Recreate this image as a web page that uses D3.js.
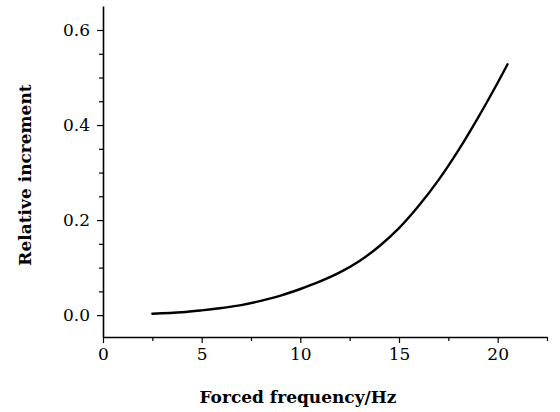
<!DOCTYPE html>
<html>
<head>
<meta charset="utf-8">
<script src="https://cdn.jsdelivr.net/npm/d3@7/dist/d3.min.js"></script>
<style>
  html, body { margin: 0; padding: 0; background: #fff; }
  svg { display: block; }
  text { font-family: "DejaVu Serif", "Liberation Serif", serif; fill: #000; }
</style>
</head>
<body>
<svg id="chart" width="560" height="412"></svg>
<script>
// Forced frequency (Hz) and the relative increment it produces
const frequency = [2.5, 4, 5, 6, 7, 8, 9, 10, 11, 12, 13, 14, 15, 16, 17, 18, 19, 20, 20.5];
const increment = [0.003, 0.006, 0.010, 0.015, 0.021, 0.030, 0.041, 0.055, 0.071, 0.090,
                   0.114, 0.145, 0.183, 0.230, 0.284, 0.346, 0.415, 0.489, 0.528];

const xMajorTicks = [0, 5, 10, 15, 20];
const xMinorTicks = [2.5, 7.5, 12.5, 17.5, 22.5];
const yMajorTicks = [0.0, 0.2, 0.4, 0.6];
const yMinorTicks = [0.05, 0.1, 0.15, 0.25, 0.3, 0.35, 0.45, 0.5, 0.55];

const xTitle = "Forced frequency/Hz";
const yTitle = "Relative increment";

const svg = d3.select("#chart");

const x = d3.scaleLinear().domain([0, 22.5]).range([103, 547]);
const y = d3.scaleLinear().domain([-0.046, 0.6505]).range([337, 6]);

const xAxisY = y.range()[0];
const yAxisX = x.range()[0];

// x axis: major ticks with labels, minor ticks without
const xAxis = svg.append("g").attr("transform", `translate(0,${xAxisY})`);
xAxis.call(d3.axisBottom(x).tickValues(xMajorTicks).tickFormat(d3.format("d"))
  .tickSize(6).tickSizeOuter(0).tickPadding(5));
xAxis.append("g").call(d3.axisBottom(x).tickValues(xMinorTicks).tickFormat("")
  .tickSize(4).tickSizeOuter(0))
  .select(".domain").remove();

// y axis
const yAxis = svg.append("g").attr("transform", `translate(${yAxisX},0)`);
yAxis.call(d3.axisLeft(y).tickValues(yMajorTicks).tickFormat(d3.format(".1f"))
  .tickSize(6).tickSizeOuter(0).tickPadding(7));
yAxis.append("g").call(d3.axisLeft(y).tickValues(yMinorTicks)
  .tickFormat("").tickSize(4).tickSizeOuter(0))
  .select(".domain").remove();

svg.selectAll(".domain").attr("stroke", "#000").attr("stroke-width", 1.6);
svg.selectAll(".tick line").attr("stroke", "#000").attr("stroke-width", 1.2);
svg.selectAll(".tick text")
  .attr("font-family", "DejaVu Serif, Liberation Serif, serif")
  .attr("font-size", 17)
  .attr("fill", "#000");

// axis titles
svg.append("text")
  .attr("x", 298).attr("y", 403)
  .attr("text-anchor", "middle")
  .attr("font-size", 17).attr("font-weight", "bold")
  .text(xTitle);

svg.append("text")
  .attr("transform", "translate(31,175) rotate(-90)")
  .attr("text-anchor", "middle")
  .attr("font-size", 17).attr("font-weight", "bold")
  .text(yTitle);

// response curve
const points = frequency.map((f, i) => [f, increment[i]]);
svg.append("path")
  .datum(points)
  .attr("fill", "none")
  .attr("stroke", "#000")
  .attr("stroke-width", 2.4)
  .attr("stroke-linecap", "round")
  .attr("d", d3.line().x(d => x(d[0])).y(d => y(d[1])).curve(d3.curveCatmullRom.alpha(0.5)));
</script>
</body>
</html>
